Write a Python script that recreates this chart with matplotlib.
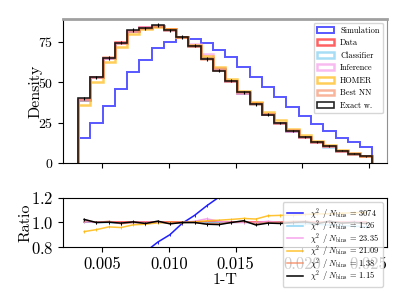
import numpy as np
import matplotlib
matplotlib.use("Agg")
import matplotlib.pyplot as plt

plt.rcParams['font.family'] = 'serif'
plt.rcParams['font.serif'] = ['cmr10', 'DejaVu Serif']
plt.rcParams['mathtext.fontset'] = 'cm'
plt.rcParams['axes.formatter.use_mathtext'] = True
plt.rcParams['axes.unicode_minus'] = False

# ---- data ----
edges = np.linspace(0.003165, 0.02527, 25)

data = [39.0, 52.9, 64.8, 74.8, 81.5, 83.8, 84.4, 82.8, 77.7, 72.6, 65.2, 58.0,
        50.8, 43.3, 37.0, 30.2, 25.1, 20.2, 16.1, 13.1, 10.4, 7.8, 6.0, 4.4]
simulation = [15.5, 24.9, 35.2, 45.7, 56.0, 63.8, 70.9, 74.6, 77.2, 76.8, 74.1, 70.0,
              65.3, 59.3, 53.1, 46.8, 40.9, 34.9, 29.2, 24.4, 19.7, 15.9, 12.9, 10.3]
classifier = [39.2, 52.9, 64.8, 74.28, 81.5, 83.63, 84.57, 82.39, 77.7, 72.6, 65.07, 58.0,
              50.8, 43.39, 36.82, 30.14, 25.1, 20.0, 15.94, 12.9, 10.19, 7.61, 5.82, 4.25]
inference = [39.39, 52.9, 65.12, 74.43, 81.5, 83.8, 84.82, 82.39, 77.7, 73.33, 67.16, 58.58,
             50.8, 43.3, 37.0, 30.5, 25.1, 20.2, 16.26, 13.1, 10.5, 7.8, 6.06, 4.4]
homer = [36.11, 49.83, 62.47, 71.73, 79.95, 82.63, 84.15, 82.8, 77.7, 72.96, 66.11, 59.10,
         52.07, 44.73, 38.04, 31.86, 26.56, 21.41, 17.15, 14.02, 11.13, 8.39, 6.48, 4.75]
best_nn = [39.78, 52.9, 65.45, 74.05, 81.5, 83.38, 84.82, 82.39, 77.7, 72.6, 64.55, 57.42,
           50.8, 43.73, 36.63, 30.2, 25.1, 20.4, 16.26, 13.1, 10.5, 7.8, 6.0, 4.4]
exact = [39.98, 52.9, 64.99, 74.43, 81.91, 83.13, 85.33, 81.89, 77.7, 72.6, 64.29, 57.01,
         50.8, 43.91, 36.26, 30.05, 24.90, 20.2, 16.18, 12.97, 10.50, 7.76, 6.0, 4.36]
exact_err = [0.9, 1.0, 1.1, 1.1, 1.2, 1.2, 1.2, 1.2, 1.1, 1.1, 1.0, 1.0,
             0.9, 0.9, 0.8, 0.7, 0.7, 0.6, 0.6, 0.5, 0.5, 0.4, 0.4, 0.3]

labels_top = ["Simulation", "Data", "Classifier", "Inference", "HOMER", "Best NN", "Exact w."]
chi2_values = ["3074", "1.26", "23.35", "21.09", "1.38", "1.15"]

c_sim = '#1f1fff'
c_data = '#ff2020'
c_cls = '#6cc8f0'
c_inf = '#f48ee8'
c_hom = '#ffb400'
c_nn = '#f4845a'
c_ex = 'black'

fig = plt.figure(figsize=(4.07, 3.05), dpi=100)
ax = fig.add_axes([0.1555, 0.4646, 0.7955, 0.4744])
axr = fig.add_axes([0.1555, 0.190, 0.7955, 0.161], sharex=ax)

data_a = np.array(data)
centers = 0.5 * (edges[1:] + edges[:-1])

series = [
    (simulation, c_sim, labels_top[0], 0.75, 1.4),
    (data, c_data, labels_top[1], 0.7, 1.8),
    (classifier, c_cls, labels_top[2], 0.6, 1.8),
    (inference, c_inf, labels_top[3], 0.6, 1.8),
    (homer, c_hom, labels_top[4], 0.65, 1.8),
    (best_nn, c_nn, labels_top[5], 0.6, 1.8),
    (exact, c_ex, labels_top[6], 0.85, 1.2),
]
for i, (vals, col, lab, al, lw) in enumerate(series):
    ax.hist(centers, bins=edges, weights=vals, histtype='step', color=col,
            alpha=al, lw=lw, label=lab, zorder=2 + i * 0.1)
ax.errorbar(centers, exact, yerr=exact_err, fmt='none', ecolor='black', elinewidth=0.8, zorder=3)

ax.set_ylim(0, 89.2)
ax.set_yticks([0, 25, 50, 75])
ax.tick_params(axis='y', labelsize=10)
ax.tick_params(axis='x', labelbottom=False)
ax.set_ylabel('Density', fontsize=11.5, labelpad=-3)
ax.spines['top'].set_color('#a0a0a0')
ax.spines['top'].set_linewidth(2.0)
ax.spines['right'].set_color('#909090')
ax.legend(loc='upper right', fontsize=6)

# ---- ratio panel ----
axr.plot(centers, data_a / data_a, color=c_data, lw=1.2, alpha=0.8, zorder=1)
models = [
    (simulation, c_sim, 1.0),
    (classifier, c_cls, 0.8),
    (inference, c_inf, 0.8),
    (homer, c_hom, 0.8),
    (best_nn, c_nn, 0.8),
    (exact, c_ex, 1.0),
]
for i, ((vals, col, al), chi) in enumerate(zip(models, chi2_values)):
    r = np.array(vals) / data_a
    axr.plot(centers, r, color=col, lw=1.1, alpha=al, zorder=2 + i * 0.1,
             label=r'$\chi^2$ / $N_{\rm bins}$ = ' + chi)
    axr.errorbar(centers, r, yerr=0.012, fmt='none', ecolor=col, elinewidth=0.7,
                 alpha=al, zorder=2 + i * 0.1)

axr.set_ylim(0.8, 1.2)
axr.set_yticks([0.8, 1.0, 1.2])
axr.set_xticks([0.005, 0.010, 0.015, 0.020, 0.025])
axr.set_xticklabels(['0.005', '0.010', '0.015', '0.020', '0.025'])
axr.tick_params(labelsize=12)
axr.set_ylabel('Ratio', fontsize=11.5, labelpad=-1)
axr.set_xlabel('1-T', fontsize=11.5, labelpad=1)
axr.legend(loc='upper right', fontsize=6, labelspacing=-0.3, borderpad=0.45,
           handletextpad=0.8)

fig.savefig('out.png', dpi=100)
